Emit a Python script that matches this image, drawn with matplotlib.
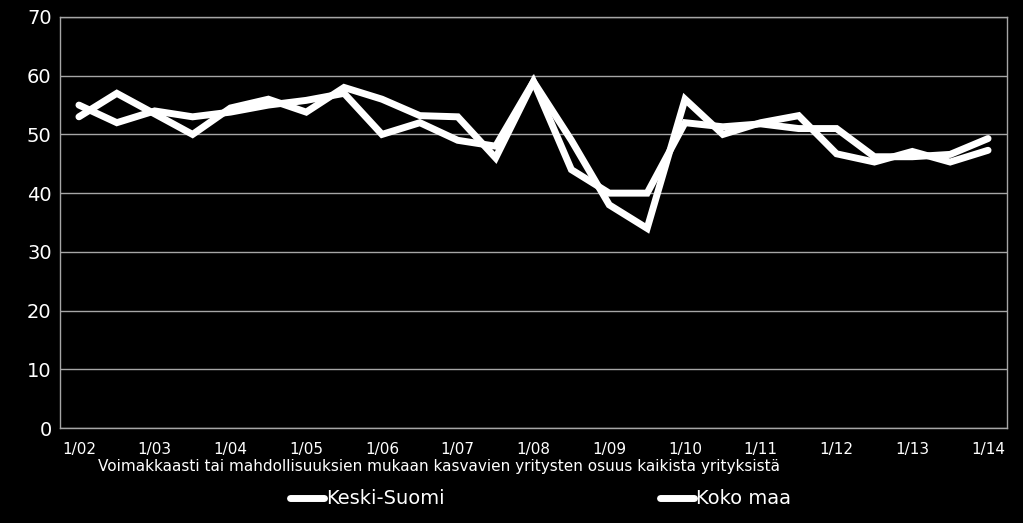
import matplotlib
matplotlib.use("Agg")
import matplotlib.pyplot as plt
import numpy as np

periods = ["1/02", "7/02", "1/03", "7/03", "1/04", "7/04", "1/05", "7/05", "1/06", "7/06",
           "1/07", "7/07", "1/08", "7/08", "1/09", "7/09", "1/10", "7/10", "1/11", "7/11",
           "1/12", "7/12", "1/13", "7/13", "1/14"]
keski_suomi = [55, 52, 54, 53, 53.8, 55, 55.8, 57, 50, 52, 49, 48, 59, 44, 40, 40,
               52, 51.3, 51.8, 51, 51, 46.2, 46.2, 46.6, 49.3]
koko_maa = [53, 57, 53.5, 50, 54.5, 56, 53.8, 58, 56, 53.2, 53, 46, 59, 49, 38, 34,
            56, 50, 52, 53.2, 46.7, 45.3, 47.1, 45.3, 47.3]
yticks = [0, 10, 20, 30, 40, 50, 60, 70]
xlabel = "Voimakkaasti tai mahdollisuuksien mukaan kasvavien yritysten osuus kaikista yrityksistä"

plt.rcParams['font.family'] = ["DejaVu Sans"]

W, H = 1023, 523
fig = plt.figure(figsize=(W / 100, H / 100), dpi=100, facecolor="black")
ax = fig.add_axes([60 / W, 1 - 428 / H, (1007 - 60) / W, (428 - 17) / H], facecolor="black")

x = np.arange(len(periods))
l1, = ax.plot(x, keski_suomi, color="white", lw=5, solid_joinstyle="miter", solid_capstyle="round", label="Keski-Suomi")
l2, = ax.plot(x, koko_maa, color="white", lw=5, solid_joinstyle="miter", solid_capstyle="round", label="Koko maa")

ax.set_xlim(-0.5, len(periods) - 0.5)
ax.set_ylim(0, 70)
ax.set_yticks(yticks)
ax.set_yticklabels([str(v) for v in yticks], color="white", fontsize=14)
ax.set_xticks(x[::2])
ax.set_xticklabels(periods[::2], color="white", fontsize=11)
ax.tick_params(length=0, pad=6)
ax.tick_params(axis="x", pad=10)
ax.grid(axis="y", color="#a6a6a6", lw=1)
ax.set_axisbelow(True)
for s in ["left", "bottom", "right", "top"]:
    ax.spines[s].set_color("#a6a6a6")
    ax.spines[s].set_linewidth(1)

fig.text(439 / W, 1 - 466 / H, xlabel, color="white", fontsize=11, ha="center", va="center")

for handle, x0 in [(l1, 290), (l2, 660)]:
    fig.legend(handles=[handle], loc="center left", bbox_to_anchor=(x0 / W, 1 - 499 / H),
               frameon=False, fontsize=14, handlelength=1.75, handletextpad=0.1,
               borderaxespad=0, borderpad=0, labelcolor="white")

fig.savefig("out.png", dpi=100, facecolor="black")
